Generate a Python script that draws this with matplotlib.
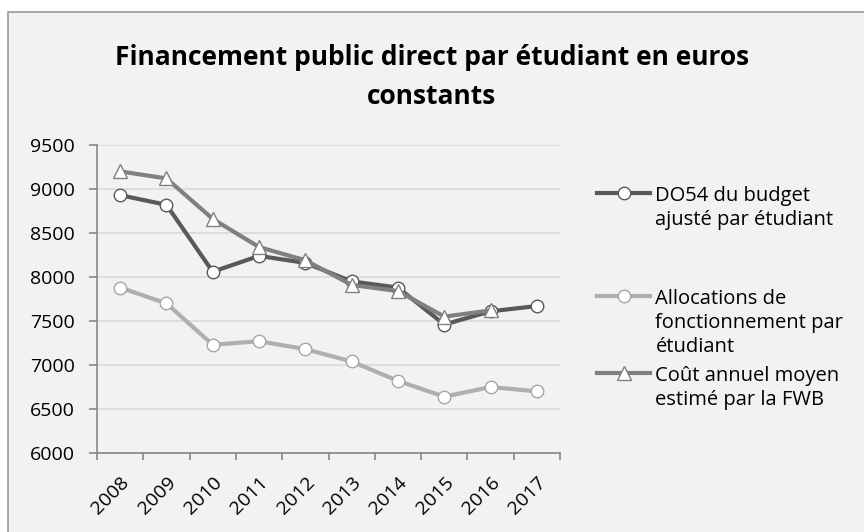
import matplotlib
matplotlib.use("Agg")
import matplotlib.pyplot as plt
from matplotlib.patches import Rectangle
import numpy as np

annees = ["2008", "2009", "2010", "2011", "2012", "2013", "2014", "2015", "2016", "2017"]
do54 = [8930, 8820, 8060, 8240, 8160, 7950, 7880, 7460, 7610, 7670]
allocations = [7880, 7700, 7230, 7270, 7180, 7040, 6820, 6640, 6750, 6700]
cout_fwb = [9200, 9120, 8660, 8340, 8190, 7910, 7840, 7550, 7620]

labels = ["DO54 du budget\najusté par étudiant",
          "Allocations de\nfonctionnement par\nétudiant",
          "Coût annuel moyen\nestimé par la FWB"]

plt.rcParams['font.family'] = ['Open Sans', 'DejaVu Sans']

fig = plt.figure(figsize=(8.64, 5.32), dpi=100)
fig.patch.set_facecolor("white")
# fond du graphique (cadre excel)
fig.patches.append(Rectangle((8 / 864, -0.1), 1.2, 1 - 12 / 532 + 0.1,
                             transform=fig.transFigure, facecolor="#F2F2F2",
                             edgecolor="#9A9A9A", linewidth=1.2, zorder=-10))

ax = fig.add_axes([97 / 864, 1 - 453 / 532, (560 - 97) / 864, (453 - 145) / 532])
ax.patch.set_alpha(0)

x = np.arange(len(annees))
l1, = ax.plot(x, do54, color="#595959", lw=3.0, marker="o", ms=9,
              mfc="white", mec="#595959", mew=1.0, zorder=3)
l2, = ax.plot(x, allocations, color="#AFAFAF", lw=3.0, marker="o", ms=9,
              mfc="white", mec="#A6A6A6", mew=1.0, zorder=3)
l3, = ax.plot(x[:len(cout_fwb)], cout_fwb, color="#808080", lw=3.0, marker="^", ms=10,
              mfc="white", mec="#808080", mew=1.0, zorder=4)

ax.set_xlim(-0.5, len(annees) - 0.5)
ax.set_ylim(6000, 9500)
ax.set_yticks(np.arange(6000, 9501, 500))
ax.yaxis.grid(True, color="#D9D9D9", lw=1.2)
ax.set_axisbelow(True)

ax.set_xticks(x)
ax.set_xticklabels(annees, rotation=45, ha="right", va="top", rotation_mode="anchor")
ax.set_xticks(np.arange(-0.5, len(annees)), minor=True)
ax.tick_params(axis="x", which="major", length=0, pad=15, labelsize=14)
ax.tick_params(axis="x", which="minor", length=5, color="#868686", width=1.2)
ax.tick_params(axis="y", length=6, color="#868686", width=1.2, labelsize=14, pad=10)

for s in ["top", "right"]:
    ax.spines[s].set_visible(False)
for s in ["left", "bottom"]:
    ax.spines[s].set_color("#868686")
    ax.spines[s].set_linewidth(1.2)

fig.text(432 / 864, 1 - 77 / 532,
         "Financement public direct par étudiant en euros\nconstants",
         ha="center", va="center", fontsize=19, fontweight="bold",
         linespacing=1.55)

positions = [1 - 186 / 532, 1 - 289 / 532, 1 - 366 / 532]
for h, lab, ypos in zip([l1, l2, l3], labels, positions):
    leg = fig.legend([h], [lab], loc="upper left", bbox_to_anchor=(597 / 864, ypos),
                     frameon=False, fontsize=14.5, handlelength=2.65,
                     handletextpad=0.25, borderpad=0, borderaxespad=0,
                     labelspacing=0)
    for t in leg.get_texts():
        t.set_linespacing(1.27)
    for col in leg._legend_handle_box.get_children():
        for item in col.get_children():
            item.align = "top"

fig.savefig("out.png", dpi=100)
